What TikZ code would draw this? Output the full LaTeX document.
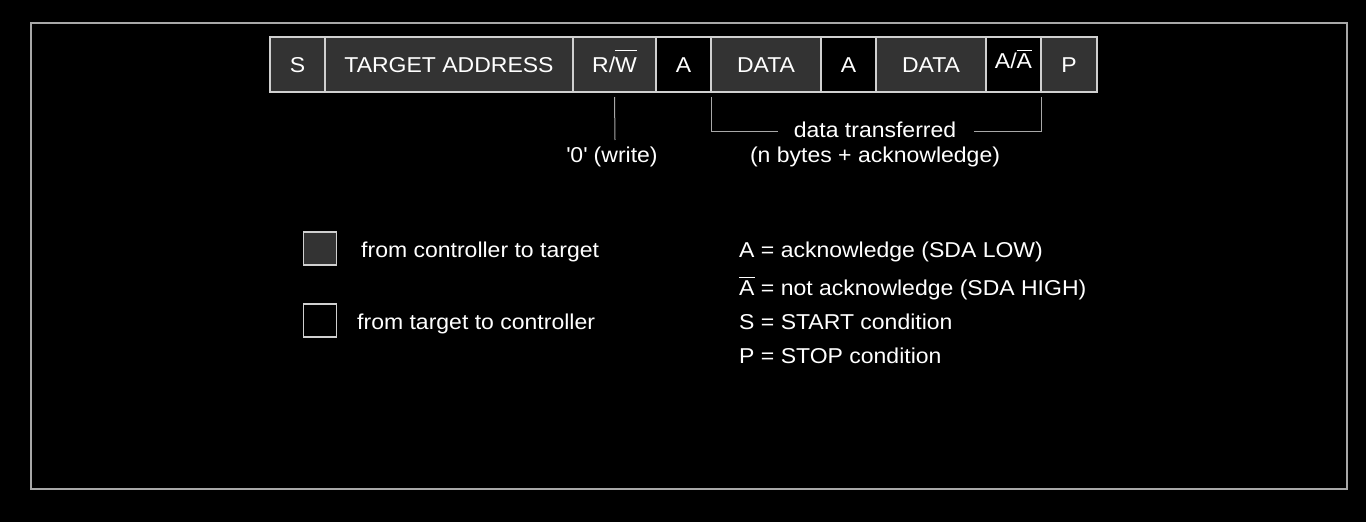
\documentclass[tikz,border=0pt]{standalone}
\usepackage{fontspec}
\setmainfont{Liberation Sans}[FakeStretch=1.07]
\usetikzlibrary{positioning}

\definecolor{fieldgray}{HTML}{333333}
\definecolor{linegray}{HTML}{D0D0D0}
\definecolor{framegray}{HTML}{A8A8A8}

% overline with adjustable gap above the letters
\newcommand{\ovl}[2][3pt]{\setbox0\hbox{#2}\rlap{\rule[\dimexpr\ht0+#1\relax]{\wd0}{1.2pt}}\box0\relax}

\begin{document}
\begin{tikzpicture}[
    x=1pt, y=-1pt,
    node distance=0pt,
    field/.style={rectangle, draw=linegray, line width=1.5pt, fill=fieldgray, text=white, minimum height=55pt, inner sep=0pt, outer sep=0pt, text height=15pt, text depth=0pt, font=\fontsize{21.5}{26}\selectfont},
    ackfield/.style={field, fill=black},
    note/.style={text=white, inner sep=0pt, font=\fontsize{21.5}{26}\selectfont},
    keybox/.style={rectangle, draw=linegray, line width=1.5pt, minimum width=33pt, minimum height=33pt, inner sep=0pt},
    tick/.style={draw=framegray, line width=1pt}
]
    % Background and frame
    \fill[black] (0,0) rectangle (1366,522);
    \draw[framegray, line width=1.5pt] (31,23) rectangle (1347,489);

    % Message frame
    \node[field, minimum width=55pt, anchor=west] (s) at (270,64.5) {S};
    \node[field, minimum width=248pt, right=of s] (addr) {TARGET ADDRESS};
    \node[field, minimum width=83pt, right=of addr] (rw) {R/\ovl[6pt]{W}};
    \node[ackfield, minimum width=55pt, right=of rw] (ack1) {A};
    \node[field, minimum width=110pt, right=of ack1] (data1) {DATA};
    \node[ackfield, minimum width=55pt, right=of data1] (ack2) {A};
    \node[field, minimum width=110pt, right=of ack2] (data2) {DATA};
    \node[ackfield, minimum width=55pt, right=of data2] (nack) {\raisebox{4pt}{A/\ovl[2.5pt]{A}}};
    \node[field, minimum width=56pt, right=of nack] (p) {P};

    % Annotations
    \node[note, anchor=base] (wr) at (612,162) {\textquotesingle0\textquotesingle\ (write)};
    \coordinate (wtip) at (615,140);
    \draw[tick] ([yshift=-5pt]rw.south) -- (wtip);

    \node[note, anchor=base] (dt) at (875,137) {data transferred};
    \node[note, anchor=base] (nb) at (875,162) {(n bytes + acknowledge)};
    \draw[tick] ([yshift=-5pt]data1.south west) |- ([xshift=-16pt,yshift=-2pt]dt.west);
    \draw[tick] ([yshift=-5pt]nack.south east) |- ([xshift=18pt,yshift=-2pt]dt.east);

    % Legend
    \node[keybox, fill=fieldgray] (kc) at (320,248.5) {};
    \node[note, anchor=base west] (kct) at (361,257) {from controller to target};
    \node[keybox, fill=black] (kt) at (320,320.5) {};
    \node[note, anchor=base west] (ktt) at (357,329) {from target to controller};

    \node[note, anchor=base west] (ka) at (739,257) {A = acknowledge (SDA LOW)};
    \node[note, anchor=base west] (kn) at (739,295) {\ovl[2.5pt]{A} = not acknowledge (SDA HIGH)};
    \node[note, anchor=base west] (ks) at (739,329) {S = START condition};
    \node[note, anchor=base west] (kp) at (739,363) {P = STOP condition};
\end{tikzpicture}
\end{document}
